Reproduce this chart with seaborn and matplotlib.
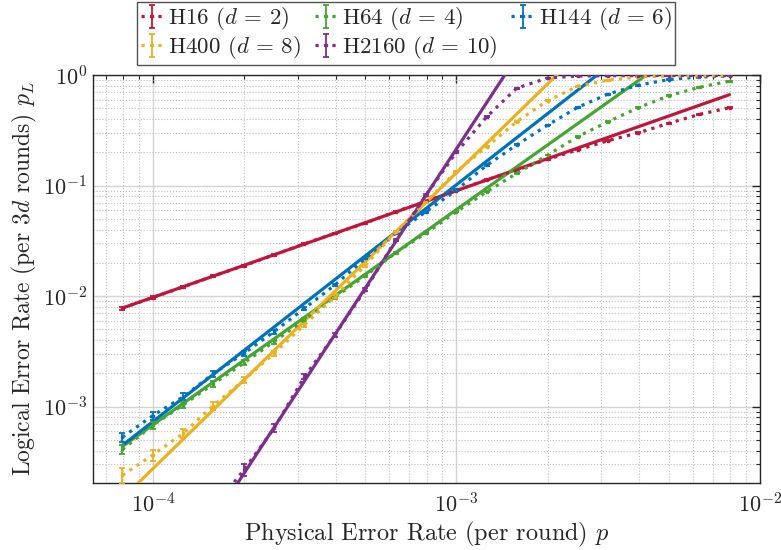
import numpy as np
import pandas as pd
import matplotlib
matplotlib.use("Agg")
import matplotlib.pyplot as plt
import seaborn as sns
from matplotlib.ticker import LogLocator, NullFormatter

# ---------------- data ----------------
p_values = [7.94e-5, 1.0e-4, 1.26e-4, 1.58e-4, 2.0e-4, 2.51e-4, 3.16e-4, 3.98e-4,
            5.01e-4, 6.31e-4, 7.94e-4, 1.0e-3, 1.26e-3, 1.58e-3, 2.0e-3, 2.51e-3,
            3.16e-3, 3.98e-3, 5.01e-3, 6.31e-3, 7.94e-3]

labels = [r"H16 ($d\,=\,2$)", r"H64 ($d\,=\,4$)", r"H144 ($d\,=\,6$)",
          r"H400 ($d\,=\,8$)", r"H2160 ($d\,=\,10$)"]

pl_h16 = [0.0078, 0.0097, 0.0121, 0.0152, 0.0189, 0.0236, 0.0298, 0.037, 0.0458, 0.058,
          0.072, 0.09, 0.113, 0.138, 0.173, 0.21, 0.255, 0.30, 0.366, 0.44, 0.506]
pl_h64 = [4.1e-4, 6.8e-4, 1.04e-3, 1.6e-3, 2.5e-3, 3.88e-3, 6.1e-3, 9.8e-3, 0.0152, 0.0247,
          0.037, 0.058, 0.088, 0.129, 0.189, 0.277, 0.378, 0.507, 0.65, 0.774, 0.88]
pl_h144 = [5.3e-4, 8.3e-4, 1.23e-3, 1.98e-3, 3.05e-3, 4.78e-3, 7.76e-3, 0.0126, 0.022, 0.037,
           0.058, 0.091, 0.153, 0.233, 0.353, 0.51, 0.673, 0.81, 0.91, 0.96, 0.98]
pl_h400 = [2.4e-4, 3.66e-4, 5.75e-4, 1.02e-3, 1.75e-3, 3.05e-3, 5.5e-3, 9.9e-3, 0.019, 0.038,
           0.071, 0.134, 0.225, 0.378, 0.586, 0.79, 0.9, 0.96, 0.98, 0.985, 0.99]
pl_h2160 = [np.nan, np.nan, np.nan, 1.2e-4, 2.7e-4, 6.4e-4, 1.87e-3, 4.46e-3, 0.0114, 0.032,
            0.082, 0.2, 0.42, 0.76, 0.94, 0.98, 0.985, 0.99, 0.99, 0.99, 0.99]

# relative error bar half-widths
rel_err_h16 = [0.03, 0.03, 0.025, 0.02, 0.02, 0.02, 0.015, 0.015, 0.01, 0.01, 0.01,
               0.01, 0.01, 0.01, 0.01, 0.01, 0.01, 0.01, 0.01, 0.01, 0.01]
rel_err_h64 = [0.09, 0.08, 0.07, 0.06, 0.05, 0.04, 0.035, 0.03, 0.025, 0.02, 0.02,
               0.015, 0.015, 0.01, 0.01, 0.01, 0.01, 0.01, 0.01, 0.01, 0.01]
rel_err_h144 = [0.09, 0.08, 0.07, 0.06, 0.05, 0.04, 0.035, 0.03, 0.025, 0.02, 0.02,
                0.015, 0.015, 0.01, 0.01, 0.01, 0.01, 0.01, 0.01, 0.01, 0.01]
rel_err_h400 = [0.15, 0.12, 0.1, 0.08, 0.06, 0.05, 0.04, 0.03, 0.025, 0.02, 0.02,
                0.015, 0.015, 0.01, 0.01, 0.01, 0.01, 0.01, 0.01, 0.01, 0.01]
rel_err_h2160 = [0.2, 0.2, 0.2, 0.2, 0.12, 0.08, 0.05, 0.04, 0.03, 0.02, 0.02,
                 0.015, 0.015, 0.01, 0.01, 0.01, 0.01, 0.01, 0.01, 0.01, 0.01]

# fitted power-law lines (end points)
fit_p = [7.94e-5, 7.94e-3]
fit_h16 = [7.8e-3, 0.664]
fit_h64 = [4.37e-4, 3.42]
fit_h144 = [4.47e-4, 8.6]
fit_h400 = [1.48e-4, 33.4]
fit_h2160 = [5.2e-6, 1277.0]

colors = ["#C0163C", "#46A532", "#0072BD", "#EDB120", "#7E2F8E"]

series = [pl_h16, pl_h64, pl_h144, pl_h400, pl_h2160]
errs = [rel_err_h16, rel_err_h64, rel_err_h144, rel_err_h400, rel_err_h2160]
fits = [fit_h16, fit_h64, fit_h144, fit_h400, fit_h2160]

# ---------------- style ----------------
sns.set_theme(style="white")
plt.rcParams["font.family"] = ["cmr10", "DejaVu Serif"]
plt.rcParams["mathtext.fontset"] = "cm"
plt.rcParams["axes.unicode_minus"] = False
plt.rcParams["axes.formatter.use_mathtext"] = True

fig = plt.figure(figsize=(7.81, 5.5), dpi=100)
ax = fig.add_axes([0.119, 0.1218, 0.854, 0.7418])
ax.set_xscale("log")
ax.set_yscale("log")

handles = []
for lab, col, ys, er, ft in zip(labels, colors, series, errs, fits):
    ys_a = np.array(ys, dtype=float)
    er_a = np.array(er) * ys_a
    fit_df = pd.DataFrame({"p": fit_p, "pl": ft})
    sns.lineplot(data=fit_df, x="p", y="pl", ax=ax, color=col, lw=2.3,
                 legend=False, zorder=3)
    h = ax.errorbar(p_values, ys_a, yerr=er_a, fmt=":", color=col, lw=2.3,
                    elinewidth=1.3, capsize=2.2, capthick=1.3, marker="s",
                    markersize=2.0, label=lab, zorder=4)
    handles.append(h)

ax.set_xlim(6.35e-5, 1e-2)
ax.set_ylim(2.04e-4, 1.0)

ax.xaxis.set_major_locator(LogLocator(base=10, numticks=10))
ax.xaxis.set_minor_locator(LogLocator(base=10, subs=np.arange(2, 10), numticks=100))
ax.yaxis.set_major_locator(LogLocator(base=10, numticks=10))
ax.yaxis.set_minor_locator(LogLocator(base=10, subs=np.arange(2, 10), numticks=100))
ax.xaxis.set_minor_formatter(NullFormatter())
ax.yaxis.set_minor_formatter(NullFormatter())

ax.grid(True, which="major", color="#d4d4d4", lw=1.0, ls="-", zorder=0)
ax.grid(True, which="minor", color="#bdbdbd", lw=0.8, ls=":", zorder=0)
ax.set_axisbelow(True)

ax.tick_params(which="both", direction="in", top=True, right=True, colors="#262626",
               labelsize=16)
ax.tick_params(which="major", length=6, width=1.0)
ax.tick_params(which="minor", length=3, width=0.8)
ax.tick_params(axis="x", which="major", pad=7)
ax.tick_params(axis="y", which="major", pad=4)
for s in ax.spines.values():
    s.set_color("#262626")
    s.set_linewidth(1.0)

ax.set_xlabel(r"Physical Error Rate (per round) $p$", fontsize=17.5, color="#262626", labelpad=2)
ax.set_ylabel(r"Logical Error Rate (per $3d$ rounds) $p_L$", fontsize=17, color="#262626", labelpad=3)

order = [0, 3, 1, 4, 2]
leg = fig.legend([handles[i] for i in order], [labels[i] for i in order],
                 loc="upper center", bbox_to_anchor=(0.52, 0.997), ncol=3,
                 fontsize=16.5, frameon=True, fancybox=False, edgecolor="#262626",
                 handlelength=1.0, handletextpad=0.2, columnspacing=0.6,
                 borderpad=0.15, labelspacing=0.1, borderaxespad=0.0)
leg.get_frame().set_linewidth(1.0)

fig.savefig("out.png", dpi=100)
